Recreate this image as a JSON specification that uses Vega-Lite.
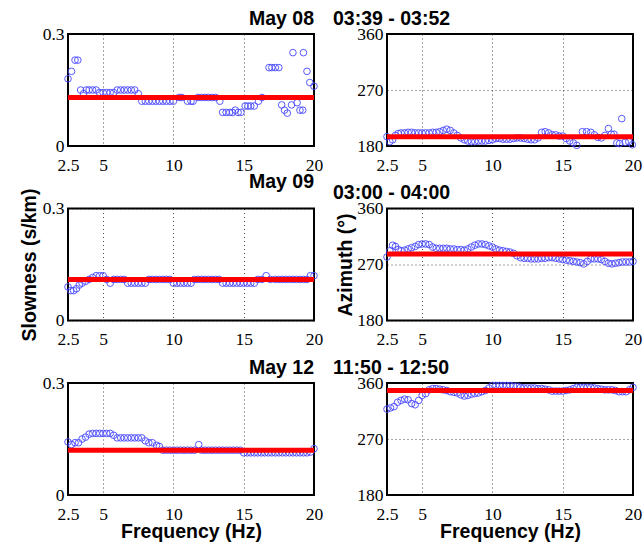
{
  "$schema": "https://vega.github.io/schema/vega-lite/v6.json",
  "padding": {"left": 18, "top": 7, "right": 0, "bottom": 2},
  "background": "white",
  "bounds": "flush",
  "columns": 2,
  "spacing": {"row": 62.5, "column": 73},
  "datasets": {
    "means": [
      {"p": "s08", "v": 0.13}, {"p": "a08", "v": 195},
      {"p": "s09", "v": 0.11}, {"p": "a09", "v": 287},
      {"p": "s12", "v": 0.12}, {"p": "a12", "v": 348}
    ],
    "s08": [
      {"f": 2.5, "v": 0.18}, {"f": 2.75, "v": 0.2}, {"f": 3.0, "v": 0.23}, {"f": 3.2, "v": 0.23}, {"f": 3.4, "v": 0.15}, {"f": 3.6, "v": 0.14}, {"f": 3.8, "v": 0.15}, {"f": 4.0, "v": 0.15}, {"f": 4.25, "v": 0.15}, {"f": 4.5, "v": 0.15}, {"f": 4.75, "v": 0.143}, {"f": 5.0, "v": 0.143}, {"f": 5.25, "v": 0.143}, {"f": 5.5, "v": 0.143}, {"f": 5.75, "v": 0.143}, {"f": 6.0, "v": 0.15}, {"f": 6.25, "v": 0.15}, {"f": 6.5, "v": 0.15}, {"f": 6.75, "v": 0.15}, {"f": 7.0, "v": 0.15}, {"f": 7.25, "v": 0.15}, {"f": 7.5, "v": 0.14}, {"f": 7.75, "v": 0.12}, {"f": 8.0, "v": 0.12}, {"f": 8.25, "v": 0.12}, {"f": 8.5, "v": 0.12}, {"f": 8.75, "v": 0.12}, {"f": 9.0, "v": 0.12}, {"f": 9.25, "v": 0.12}, {"f": 9.5, "v": 0.12}, {"f": 9.75, "v": 0.12}, {"f": 10.0, "v": 0.12}, {"f": 10.4, "v": 0.13}, {"f": 10.6, "v": 0.13}, {"f": 11.0, "v": 0.12}, {"f": 11.25, "v": 0.12}, {"f": 11.4, "v": 0.12}, {"f": 11.75, "v": 0.13}, {"f": 12.0, "v": 0.13}, {"f": 12.25, "v": 0.13}, {"f": 12.5, "v": 0.13}, {"f": 12.75, "v": 0.13}, {"f": 13.0, "v": 0.13}, {"f": 13.3, "v": 0.12}, {"f": 13.5, "v": 0.09}, {"f": 13.75, "v": 0.09}, {"f": 14.0, "v": 0.09}, {"f": 14.2, "v": 0.09}, {"f": 14.4, "v": 0.096}, {"f": 14.6, "v": 0.09}, {"f": 14.8, "v": 0.09}, {"f": 15.1, "v": 0.107}, {"f": 15.3, "v": 0.107}, {"f": 15.5, "v": 0.107}, {"f": 15.75, "v": 0.107}, {"f": 16.05, "v": 0.12}, {"f": 16.3, "v": 0.13}, {"f": 16.8, "v": 0.21}, {"f": 17.0, "v": 0.21}, {"f": 17.25, "v": 0.21}, {"f": 17.5, "v": 0.21}, {"f": 17.7, "v": 0.11}, {"f": 17.9, "v": 0.096}, {"f": 18.1, "v": 0.088}, {"f": 18.4, "v": 0.11}, {"f": 18.5, "v": 0.25}, {"f": 18.8, "v": 0.116}, {"f": 19.0, "v": 0.096}, {"f": 19.2, "v": 0.096}, {"f": 19.25, "v": 0.25}, {"f": 19.5, "v": 0.2}, {"f": 19.7, "v": 0.17}, {"f": 20.0, "v": 0.16}
    ],
    "a08": [
      {"f": 2.5, "v": 195}, {"f": 2.7, "v": 187}, {"f": 2.9, "v": 190}, {"f": 3.1, "v": 197}, {"f": 3.3, "v": 200}, {"f": 3.5, "v": 201}, {"f": 3.75, "v": 201}, {"f": 4.0, "v": 202}, {"f": 4.25, "v": 202}, {"f": 4.5, "v": 201}, {"f": 4.75, "v": 201}, {"f": 5.0, "v": 201}, {"f": 5.25, "v": 201}, {"f": 5.5, "v": 201}, {"f": 5.75, "v": 202}, {"f": 6.0, "v": 202}, {"f": 6.25, "v": 203}, {"f": 6.5, "v": 205}, {"f": 6.75, "v": 207}, {"f": 7.0, "v": 205}, {"f": 7.25, "v": 201}, {"f": 7.5, "v": 197}, {"f": 7.75, "v": 193}, {"f": 8.0, "v": 190}, {"f": 8.25, "v": 188}, {"f": 8.5, "v": 187}, {"f": 8.75, "v": 187}, {"f": 9.0, "v": 188}, {"f": 9.25, "v": 188}, {"f": 9.5, "v": 188}, {"f": 9.75, "v": 189}, {"f": 10.0, "v": 190}, {"f": 10.25, "v": 192}, {"f": 10.5, "v": 192}, {"f": 10.75, "v": 191}, {"f": 11.0, "v": 191}, {"f": 11.25, "v": 191}, {"f": 11.5, "v": 192}, {"f": 11.75, "v": 193}, {"f": 12.0, "v": 193}, {"f": 12.25, "v": 192}, {"f": 12.5, "v": 191}, {"f": 12.75, "v": 190}, {"f": 13.0, "v": 190}, {"f": 13.25, "v": 193}, {"f": 13.5, "v": 202}, {"f": 13.75, "v": 203}, {"f": 14.0, "v": 201}, {"f": 14.25, "v": 198}, {"f": 14.5, "v": 198}, {"f": 14.75, "v": 196}, {"f": 15.0, "v": 196}, {"f": 15.25, "v": 192}, {"f": 15.5, "v": 188}, {"f": 15.75, "v": 185}, {"f": 16.0, "v": 181}, {"f": 16.4, "v": 203}, {"f": 16.7, "v": 203}, {"f": 17.0, "v": 202}, {"f": 17.25, "v": 198}, {"f": 17.5, "v": 194}, {"f": 17.75, "v": 193}, {"f": 18.0, "v": 197}, {"f": 18.25, "v": 208}, {"f": 18.45, "v": 199}, {"f": 18.65, "v": 199}, {"f": 18.85, "v": 185}, {"f": 19.05, "v": 184}, {"f": 19.2, "v": 224}, {"f": 19.45, "v": 186}, {"f": 19.7, "v": 187}, {"f": 19.95, "v": 182}
    ],
    "s09": [
      {"f": 2.5, "v": 0.09}, {"f": 2.7, "v": 0.08}, {"f": 2.9, "v": 0.08}, {"f": 3.1, "v": 0.085}, {"f": 3.3, "v": 0.095}, {"f": 3.5, "v": 0.1}, {"f": 3.75, "v": 0.105}, {"f": 4.0, "v": 0.11}, {"f": 4.25, "v": 0.115}, {"f": 4.5, "v": 0.12}, {"f": 4.75, "v": 0.12}, {"f": 5.0, "v": 0.12}, {"f": 5.25, "v": 0.11}, {"f": 5.5, "v": 0.1}, {"f": 5.75, "v": 0.11}, {"f": 6.0, "v": 0.11}, {"f": 6.25, "v": 0.11}, {"f": 6.5, "v": 0.11}, {"f": 6.75, "v": 0.1}, {"f": 7.0, "v": 0.1}, {"f": 7.25, "v": 0.1}, {"f": 7.5, "v": 0.1}, {"f": 7.75, "v": 0.1}, {"f": 8.0, "v": 0.1}, {"f": 8.25, "v": 0.11}, {"f": 8.5, "v": 0.11}, {"f": 8.75, "v": 0.11}, {"f": 9.0, "v": 0.11}, {"f": 9.25, "v": 0.11}, {"f": 9.5, "v": 0.11}, {"f": 9.75, "v": 0.11}, {"f": 10.0, "v": 0.1}, {"f": 10.25, "v": 0.1}, {"f": 10.5, "v": 0.1}, {"f": 10.75, "v": 0.1}, {"f": 11.0, "v": 0.1}, {"f": 11.25, "v": 0.1}, {"f": 11.5, "v": 0.11}, {"f": 11.75, "v": 0.11}, {"f": 12.0, "v": 0.11}, {"f": 12.25, "v": 0.11}, {"f": 12.5, "v": 0.11}, {"f": 12.75, "v": 0.11}, {"f": 13.0, "v": 0.11}, {"f": 13.25, "v": 0.11}, {"f": 13.5, "v": 0.1}, {"f": 13.75, "v": 0.1}, {"f": 14.0, "v": 0.1}, {"f": 14.25, "v": 0.1}, {"f": 14.5, "v": 0.1}, {"f": 14.75, "v": 0.1}, {"f": 15.0, "v": 0.1}, {"f": 15.25, "v": 0.1}, {"f": 15.5, "v": 0.1}, {"f": 15.75, "v": 0.1}, {"f": 16.0, "v": 0.11}, {"f": 16.3, "v": 0.11}, {"f": 16.6, "v": 0.12}, {"f": 16.9, "v": 0.11}, {"f": 17.25, "v": 0.11}, {"f": 17.5, "v": 0.11}, {"f": 17.75, "v": 0.11}, {"f": 18.0, "v": 0.11}, {"f": 18.25, "v": 0.11}, {"f": 18.5, "v": 0.11}, {"f": 18.75, "v": 0.11}, {"f": 19.0, "v": 0.11}, {"f": 19.25, "v": 0.11}, {"f": 19.5, "v": 0.11}, {"f": 19.75, "v": 0.12}, {"f": 20.0, "v": 0.12}
    ],
    "a09": [
      {"f": 2.5, "v": 282}, {"f": 2.7, "v": 292}, {"f": 2.9, "v": 301}, {"f": 3.1, "v": 299}, {"f": 3.3, "v": 294}, {"f": 3.5, "v": 292}, {"f": 3.75, "v": 293}, {"f": 4.0, "v": 295}, {"f": 4.25, "v": 297}, {"f": 4.5, "v": 299}, {"f": 4.75, "v": 302}, {"f": 5.0, "v": 303}, {"f": 5.25, "v": 303}, {"f": 5.5, "v": 302}, {"f": 5.75, "v": 298}, {"f": 6.0, "v": 296}, {"f": 6.25, "v": 296}, {"f": 6.5, "v": 296}, {"f": 6.75, "v": 296}, {"f": 7.0, "v": 295}, {"f": 7.25, "v": 295}, {"f": 7.5, "v": 294}, {"f": 7.75, "v": 294}, {"f": 8.0, "v": 293}, {"f": 8.25, "v": 295}, {"f": 8.5, "v": 298}, {"f": 8.75, "v": 301}, {"f": 9.0, "v": 303}, {"f": 9.25, "v": 303}, {"f": 9.5, "v": 302}, {"f": 9.75, "v": 300}, {"f": 10.0, "v": 298}, {"f": 10.25, "v": 295}, {"f": 10.5, "v": 293}, {"f": 10.75, "v": 292}, {"f": 11.0, "v": 291}, {"f": 11.25, "v": 290}, {"f": 11.5, "v": 288}, {"f": 11.75, "v": 284}, {"f": 12.0, "v": 281}, {"f": 12.25, "v": 280}, {"f": 12.5, "v": 280}, {"f": 12.75, "v": 279}, {"f": 13.0, "v": 279}, {"f": 13.25, "v": 279}, {"f": 13.5, "v": 280}, {"f": 13.75, "v": 280}, {"f": 14.0, "v": 281}, {"f": 14.25, "v": 281}, {"f": 14.5, "v": 280}, {"f": 14.75, "v": 279}, {"f": 15.0, "v": 278}, {"f": 15.25, "v": 277}, {"f": 15.5, "v": 276}, {"f": 15.75, "v": 275}, {"f": 16.0, "v": 274}, {"f": 16.25, "v": 273}, {"f": 16.5, "v": 271}, {"f": 16.75, "v": 275}, {"f": 17.0, "v": 279}, {"f": 17.25, "v": 279}, {"f": 17.5, "v": 279}, {"f": 17.75, "v": 278}, {"f": 18.0, "v": 275}, {"f": 18.25, "v": 272}, {"f": 18.5, "v": 271}, {"f": 18.75, "v": 272}, {"f": 19.0, "v": 273}, {"f": 19.25, "v": 274}, {"f": 19.5, "v": 274}, {"f": 19.75, "v": 274}, {"f": 20.0, "v": 275}
    ],
    "s12": [
      {"f": 2.5, "v": 0.142}, {"f": 2.75, "v": 0.135}, {"f": 3.0, "v": 0.14}, {"f": 3.25, "v": 0.14}, {"f": 3.5, "v": 0.15}, {"f": 3.75, "v": 0.155}, {"f": 4.0, "v": 0.163}, {"f": 4.25, "v": 0.165}, {"f": 4.5, "v": 0.165}, {"f": 4.75, "v": 0.165}, {"f": 5.0, "v": 0.165}, {"f": 5.25, "v": 0.165}, {"f": 5.5, "v": 0.165}, {"f": 5.75, "v": 0.16}, {"f": 6.0, "v": 0.153}, {"f": 6.25, "v": 0.153}, {"f": 6.5, "v": 0.153}, {"f": 6.75, "v": 0.153}, {"f": 7.0, "v": 0.153}, {"f": 7.25, "v": 0.153}, {"f": 7.5, "v": 0.153}, {"f": 7.75, "v": 0.153}, {"f": 8.0, "v": 0.145}, {"f": 8.25, "v": 0.14}, {"f": 8.5, "v": 0.14}, {"f": 8.8, "v": 0.133}, {"f": 9.0, "v": 0.13}, {"f": 9.25, "v": 0.12}, {"f": 9.5, "v": 0.12}, {"f": 9.75, "v": 0.12}, {"f": 10.0, "v": 0.12}, {"f": 10.25, "v": 0.12}, {"f": 10.5, "v": 0.12}, {"f": 10.75, "v": 0.12}, {"f": 11.0, "v": 0.12}, {"f": 11.25, "v": 0.12}, {"f": 11.5, "v": 0.12}, {"f": 11.8, "v": 0.135}, {"f": 12.0, "v": 0.12}, {"f": 12.25, "v": 0.12}, {"f": 12.5, "v": 0.12}, {"f": 12.75, "v": 0.12}, {"f": 13.0, "v": 0.12}, {"f": 13.25, "v": 0.12}, {"f": 13.5, "v": 0.12}, {"f": 13.75, "v": 0.12}, {"f": 14.0, "v": 0.12}, {"f": 14.25, "v": 0.12}, {"f": 14.5, "v": 0.12}, {"f": 14.75, "v": 0.12}, {"f": 15.0, "v": 0.113}, {"f": 15.25, "v": 0.113}, {"f": 15.5, "v": 0.113}, {"f": 15.75, "v": 0.113}, {"f": 16.0, "v": 0.113}, {"f": 16.25, "v": 0.113}, {"f": 16.5, "v": 0.113}, {"f": 16.75, "v": 0.113}, {"f": 17.0, "v": 0.113}, {"f": 17.25, "v": 0.113}, {"f": 17.5, "v": 0.113}, {"f": 17.75, "v": 0.113}, {"f": 18.0, "v": 0.113}, {"f": 18.25, "v": 0.113}, {"f": 18.5, "v": 0.113}, {"f": 18.75, "v": 0.113}, {"f": 19.0, "v": 0.113}, {"f": 19.25, "v": 0.113}, {"f": 19.5, "v": 0.113}, {"f": 19.75, "v": 0.115}, {"f": 20.0, "v": 0.124}
    ],
    "a12": [
      {"f": 2.5, "v": 318}, {"f": 2.75, "v": 320}, {"f": 3.0, "v": 322}, {"f": 3.25, "v": 329}, {"f": 3.5, "v": 332}, {"f": 3.75, "v": 334}, {"f": 4.0, "v": 333}, {"f": 4.25, "v": 327}, {"f": 4.5, "v": 325}, {"f": 4.75, "v": 332}, {"f": 5.0, "v": 340}, {"f": 5.25, "v": 343}, {"f": 5.5, "v": 349}, {"f": 5.75, "v": 351}, {"f": 6.0, "v": 351}, {"f": 6.25, "v": 350}, {"f": 6.5, "v": 349}, {"f": 6.75, "v": 348}, {"f": 7.0, "v": 346}, {"f": 7.25, "v": 345}, {"f": 7.5, "v": 344}, {"f": 7.75, "v": 341}, {"f": 8.0, "v": 339}, {"f": 8.25, "v": 340}, {"f": 8.5, "v": 342}, {"f": 8.75, "v": 343}, {"f": 9.0, "v": 344}, {"f": 9.25, "v": 346}, {"f": 9.5, "v": 348}, {"f": 9.75, "v": 352}, {"f": 10.0, "v": 356}, {"f": 10.25, "v": 356}, {"f": 10.5, "v": 356}, {"f": 10.75, "v": 356}, {"f": 11.0, "v": 356}, {"f": 11.25, "v": 356}, {"f": 11.5, "v": 355}, {"f": 11.75, "v": 355}, {"f": 12.0, "v": 353}, {"f": 12.25, "v": 352}, {"f": 12.5, "v": 352}, {"f": 12.75, "v": 352}, {"f": 13.0, "v": 352}, {"f": 13.25, "v": 351}, {"f": 13.5, "v": 351}, {"f": 13.75, "v": 350}, {"f": 14.0, "v": 349}, {"f": 14.25, "v": 347}, {"f": 14.5, "v": 347}, {"f": 14.75, "v": 347}, {"f": 15.0, "v": 347}, {"f": 15.25, "v": 348}, {"f": 15.5, "v": 349}, {"f": 15.75, "v": 351}, {"f": 16.0, "v": 353}, {"f": 16.25, "v": 353}, {"f": 16.5, "v": 353}, {"f": 16.75, "v": 353}, {"f": 17.0, "v": 353}, {"f": 17.25, "v": 352}, {"f": 17.5, "v": 351}, {"f": 17.75, "v": 350}, {"f": 18.0, "v": 349}, {"f": 18.25, "v": 349}, {"f": 18.5, "v": 349}, {"f": 18.75, "v": 348}, {"f": 19.0, "v": 346}, {"f": 19.25, "v": 346}, {"f": 19.5, "v": 346}, {"f": 19.75, "v": 349}, {"f": 20.0, "v": 353}
    ]
  },
  "concat": [
    {
      "width": 246, "height": 112,
      "title": {"text": "May 08", "anchor": "end"},
      "layer": [
        {"data": {"name": "s08"}, "mark": {"type": "point", "shape": "circle", "filled": false, "size": 44, "color": "#4646ff", "strokeWidth": 0.9, "opacity": 1},
         "encoding": {"x": {"field": "f", "type": "quantitative", "scale": {"domain": [2.5, 20]}, "axis": {"values": [2.5, 5, 10, 15, 20], "title": null}},
                      "y": {"field": "v", "type": "quantitative", "scale": {"domain": [0, 0.3]}, "axis": {"values": [0, 0.1, 0.2, 0.3], "title": null}}}},
        {"data": {"name": "means"}, "transform": [{"filter": "datum.p == 's08'"}], "mark": {"type": "rule", "color": "#ff0000", "strokeWidth": 5}, "encoding": {"y": {"field": "v", "type": "quantitative"}}}
      ]
    },
    {
      "width": 246, "height": 112,
      "title": {"text": "03:39 - 03:52", "anchor": "start", "dx": -54},
      "layer": [
        {"data": {"name": "a08"}, "mark": {"type": "point", "shape": "circle", "filled": false, "size": 44, "color": "#4646ff", "strokeWidth": 0.9, "opacity": 1},
         "encoding": {"x": {"field": "f", "type": "quantitative", "scale": {"domain": [2.5, 20]}, "axis": {"values": [2.5, 5, 10, 15, 20], "title": null}},
                      "y": {"field": "v", "type": "quantitative", "scale": {"domain": [180, 360]}, "axis": {"values": [180, 270, 360], "title": null}}}},
        {"data": {"name": "means"}, "transform": [{"filter": "datum.p == 'a08'"}], "mark": {"type": "rule", "color": "#ff0000", "strokeWidth": 5}, "encoding": {"y": {"field": "v", "type": "quantitative"}}}
      ]
    },
    {
      "width": 246, "height": 112,
      "title": {"text": "May 09", "anchor": "end"},
      "layer": [
        {"data": {"name": "s09"}, "mark": {"type": "point", "shape": "circle", "filled": false, "size": 44, "color": "#4646ff", "strokeWidth": 0.9, "opacity": 1},
         "encoding": {"x": {"field": "f", "type": "quantitative", "scale": {"domain": [2.5, 20]}, "axis": {"values": [2.5, 5, 10, 15, 20], "title": null}},
                      "y": {"field": "v", "type": "quantitative", "scale": {"domain": [0, 0.3]}, "axis": {"values": [0, 0.1, 0.2, 0.3], "title": "Slowness (s/km)"}}}},
        {"data": {"name": "means"}, "transform": [{"filter": "datum.p == 's09'"}], "mark": {"type": "rule", "color": "#ff0000", "strokeWidth": 5}, "encoding": {"y": {"field": "v", "type": "quantitative"}}}
      ]
    },
    {
      "width": 246, "height": 112,
      "title": {"text": "03:00 - 04:00", "anchor": "start", "dx": -54},
      "layer": [
        {"data": {"name": "a09"}, "mark": {"type": "point", "shape": "circle", "filled": false, "size": 44, "color": "#4646ff", "strokeWidth": 0.9, "opacity": 1},
         "encoding": {"x": {"field": "f", "type": "quantitative", "scale": {"domain": [2.5, 20]}, "axis": {"values": [2.5, 5, 10, 15, 20], "title": null}},
                      "y": {"field": "v", "type": "quantitative", "scale": {"domain": [180, 360]}, "axis": {"values": [180, 270, 360], "title": "Azimuth (°)", "titlePadding": 1}}}},
        {"data": {"name": "means"}, "transform": [{"filter": "datum.p == 'a09'"}], "mark": {"type": "rule", "color": "#ff0000", "strokeWidth": 5}, "encoding": {"y": {"field": "v", "type": "quantitative"}}}
      ]
    },
    {
      "width": 246, "height": 112,
      "title": {"text": "May 12", "anchor": "end"},
      "layer": [
        {"data": {"name": "s12"}, "mark": {"type": "point", "shape": "circle", "filled": false, "size": 44, "color": "#4646ff", "strokeWidth": 0.9, "opacity": 1},
         "encoding": {"x": {"field": "f", "type": "quantitative", "scale": {"domain": [2.5, 20]}, "axis": {"values": [2.5, 5, 10, 15, 20], "title": "Frequency (Hz)"}},
                      "y": {"field": "v", "type": "quantitative", "scale": {"domain": [0, 0.3]}, "axis": {"values": [0, 0.1, 0.2, 0.3], "title": null}}}},
        {"data": {"name": "means"}, "transform": [{"filter": "datum.p == 's12'"}], "mark": {"type": "rule", "color": "#ff0000", "strokeWidth": 5}, "encoding": {"y": {"field": "v", "type": "quantitative"}}}
      ]
    },
    {
      "width": 246, "height": 112,
      "title": {"text": "11:50 - 12:50", "anchor": "start", "dx": -54},
      "layer": [
        {"data": {"name": "a12"}, "mark": {"type": "point", "shape": "circle", "filled": false, "size": 44, "color": "#4646ff", "strokeWidth": 0.9, "opacity": 1},
         "encoding": {"x": {"field": "f", "type": "quantitative", "scale": {"domain": [2.5, 20]}, "axis": {"values": [2.5, 5, 10, 15, 20], "title": "Frequency (Hz)"}},
                      "y": {"field": "v", "type": "quantitative", "scale": {"domain": [180, 360]}, "axis": {"values": [180, 270, 360], "title": null}}}},
        {"data": {"name": "means"}, "transform": [{"filter": "datum.p == 'a12'"}], "mark": {"type": "rule", "color": "#ff0000", "strokeWidth": 5}, "encoding": {"y": {"field": "v", "type": "quantitative"}}}
      ]
    }
  ],
  "config": {
    "view": {"stroke": "#000000", "strokeWidth": 2},
    "axis": {
      "labelFont": "Liberation Serif", "labelFontSize": 17.5, "labelColor": "#000000",
      "titleFont": "Liberation Sans", "titleFontSize": 19.5, "titleFontWeight": "bold", "titleColor": "#000000",
      "ticks": false, "domain": false, "grid": true, "gridColor": "#000000", "gridDash": [1, 3], "gridOpacity": 0.7, "gridWidth": 1,
      "labelFlush": false, "labelOverlap": false, "labelPadding": 4, "titlePadding": 3, "format": ".1~f"
    },
    "axisX": {"labelPadding": 10, "titlePadding": 0},
    "title": {"font": "Liberation Sans", "fontSize": 19.5, "fontWeight": "bold", "color": "#000000", "offset": -4, "frame": "group"}
  }
}
